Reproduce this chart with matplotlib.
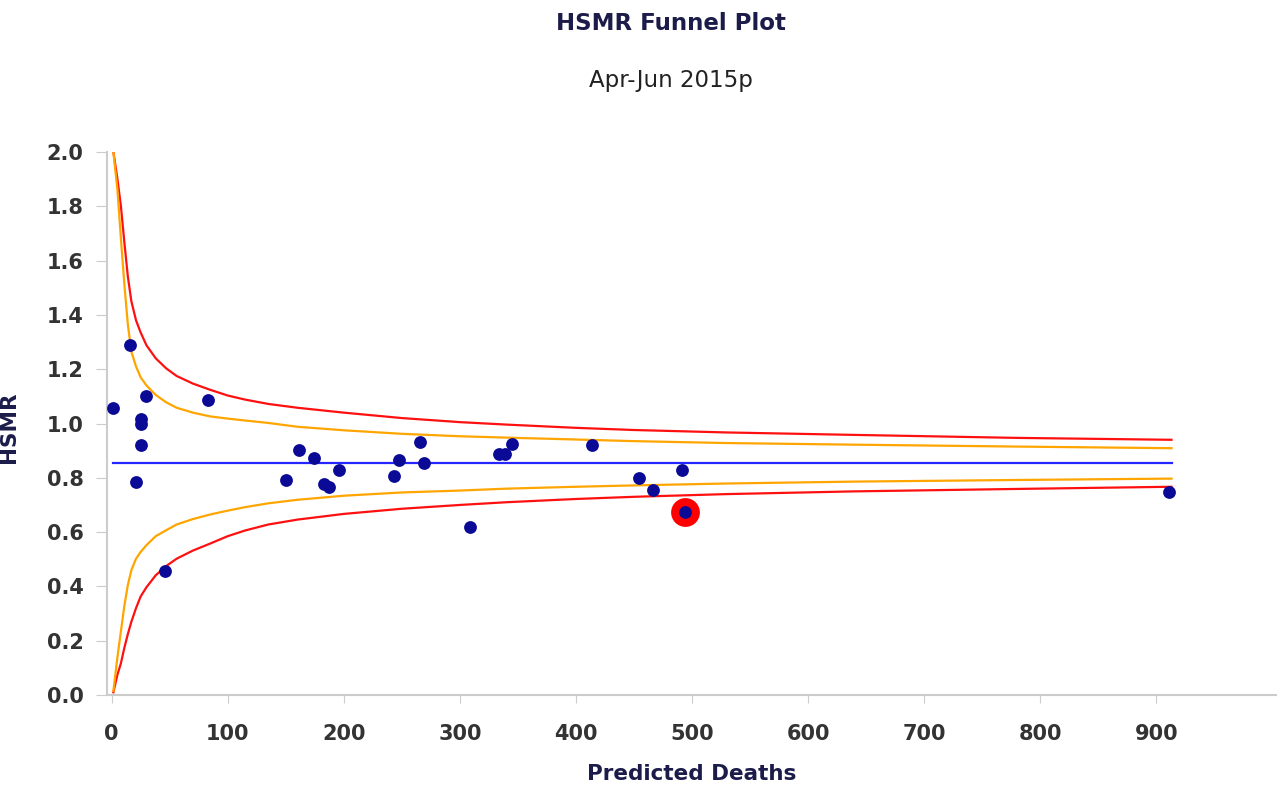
import matplotlib
matplotlib.use("Agg")
import matplotlib.pyplot as plt

# ---- data ----
predicted = [1, 16, 30, 25.5, 25.5, 25.5, 21, 46, 83, 150.5, 161, 174, 183, 187, 196,
             243, 247.5, 266, 269, 309, 334, 338.5, 345, 414, 454, 466, 491.5, 493.5, 911]
hsmr = [1.056, 1.289, 1.101, 1.018, 1.0, 0.919, 0.786, 0.458, 1.088, 0.791, 0.904, 0.872,
        0.779, 0.767, 0.828, 0.806, 0.864, 0.932, 0.853, 0.619, 0.888, 0.888, 0.925, 0.919,
        0.799, 0.754, 0.828, 0.675, 0.749]
highlight_x = [493.5]
highlight_y = [0.675]

target = 0.853

limit_x = [1.5, 5, 8, 11, 14, 17, 21, 25, 30, 38, 47, 56, 70, 85, 100, 115, 135, 160,
           200, 250, 300, 340, 400, 450, 530, 640, 780, 913]
upper_998 = [2.0, 1.90, 1.80, 1.665, 1.54, 1.45, 1.38, 1.335, 1.288, 1.24, 1.203, 1.175,
             1.147, 1.124, 1.103, 1.088, 1.072, 1.058, 1.040, 1.020, 1.005, 0.996, 0.984,
             0.976, 0.967, 0.958, 0.947, 0.940]
upper_95 = [2.0, 1.86, 1.68, 1.51, 1.363, 1.264, 1.21, 1.17, 1.14, 1.105, 1.078, 1.058,
            1.040, 1.026, 1.018, 1.011, 1.002, 0.988, 0.975, 0.962, 0.953, 0.948, 0.941,
            0.935, 0.928, 0.922, 0.915, 0.909]
lower_95 = [0.015, 0.14, 0.235, 0.33, 0.406, 0.46, 0.502, 0.527, 0.552, 0.585, 0.607, 0.628,
            0.648, 0.665, 0.679, 0.692, 0.706, 0.719, 0.734, 0.746, 0.753, 0.760, 0.767,
            0.772, 0.779, 0.786, 0.792, 0.797]
lower_998 = [0.01, 0.075, 0.117, 0.175, 0.225, 0.27, 0.32, 0.363, 0.397, 0.441, 0.475,
             0.502, 0.532, 0.558, 0.585, 0.606, 0.628, 0.646, 0.667, 0.686, 0.700, 0.710,
             0.722, 0.730, 0.740, 0.750, 0.759, 0.767]

x_ticks = [0, 100, 200, 300, 400, 500, 600, 700, 800, 900]
y_ticks = [0.0, 0.2, 0.4, 0.6, 0.8, 1.0, 1.2, 1.4, 1.6, 1.8, 2.0]

title = "HSMR Funnel Plot"
subtitle = "Apr-Jun 2015p"
xlabel = "Predicted Deaths"
ylabel = "HSMR"

# ---- figure ----
W, H = 1279, 787
fig = plt.figure(figsize=(W / 100, H / 100), dpi=100)
ax = fig.add_axes([107 / W, 1 - 695 / H, (1276 - 107) / W, (695 - 152) / H])

navy = "#1c1c4a"
tickc = "#333333"

ax.plot(limit_x, upper_998, color="#ff1010", lw=1.6, zorder=2)
ax.plot(limit_x, lower_998, color="#ff1010", lw=1.6, zorder=2)
ax.plot(limit_x, upper_95, color="#ffa500", lw=1.6, zorder=2)
ax.plot(limit_x, lower_95, color="#ffa500", lw=1.6, zorder=2)
ax.plot([limit_x[0], limit_x[-1]], [target, target], color="#2525ff", lw=1.6, zorder=2)

ax.scatter(highlight_x, highlight_y, s=430, color="#ff0000", zorder=3, linewidths=0)
ax.scatter(predicted, hsmr, s=85, color="#0a0a96", zorder=4, linewidths=0)

ax.set_xlim(-4, 1003)
ax.set_ylim(0, 2.0)
ax.set_xticks(x_ticks)
ax.set_yticks(y_ticks)
ax.set_xticklabels([str(v) for v in x_ticks])
ax.set_yticklabels([f"{v:.1f}" for v in y_ticks])

for s in ["top", "right"]:
    ax.spines[s].set_visible(False)
for s in ["left", "bottom"]:
    ax.spines[s].set_color("#cccccc")
    ax.spines[s].set_linewidth(1.5)

ax.tick_params(axis="x", length=6, color="#cccccc", pad=15, labelsize=15,
               labelcolor=tickc)
ax.tick_params(axis="y", length=8, color="#cccccc", pad=9, labelsize=15,
               labelcolor=tickc)
for lab in ax.get_xticklabels() + ax.get_yticklabels():
    lab.set_fontweight("bold")

ax.set_xlabel(xlabel, fontsize=15.5, fontweight="bold", color=navy, labelpad=14)
ax.set_ylabel(ylabel, fontsize=15.5, fontweight="bold", color=navy)
ax.yaxis.set_label_coords((19 - 107) / 1169, (695 - 427) / 543)

fig.text(671 / W, 1 - 23 / H, title, ha="center", va="center", fontsize=16.5,
         fontweight="bold", color=navy)
fig.text(671 / W, 1 - 80 / H, subtitle, ha="center", va="center", fontsize=16.5,
         color="#222222")

fig.savefig("out.png", dpi=100)
